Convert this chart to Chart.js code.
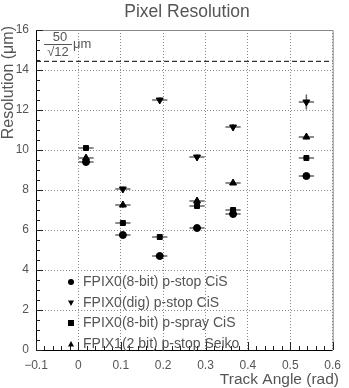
<!DOCTYPE html>
<html>
<head>
<meta charset="utf-8">
<script src="https://cdn.jsdelivr.net/npm/chart.js@4.4.0/dist/chart.umd.min.js"></script>
<style>
  body { margin: 0; background: #fff; }
  canvas { display: block; }
</style>
</head>
<body>
<canvas id="myChart" width="349" height="388"></canvas>
<script>
// data
const seriesNames = [
  "FPIX0(8-bit) p-stop CiS",
  "FPIX0(dig) p-stop CiS",
  "FPIX0(8-bit) p-spray CiS",
  "FPIX1(2 bit) p-stop Seiko"
];

const anglesStopCis = [0.018, 0.105, 0.192, 0.28, 0.365, 0.538];
const resStopCis = [9.4, 5.75, 4.7, 6.1, 6.8, 8.7];
const errStopCis = [0.12, 0.12, 0.12, 0.12, 0.12, 0.15];

const anglesDig = [0.105, 0.192, 0.28, 0.365, 0.538];
const resDig = [8.05, 12.5, 9.65, 11.15, 12.4];
const errDig = [0.12, 0.12, 0.12, 0.15, 0.38];

const anglesSpray = [0.018, 0.105, 0.192, 0.28, 0.365, 0.538];
const resSpray = [10.1, 6.35, 5.65, 7.2, 7.0, 9.6];
const errSpray = [0.12, 0.15, 0.12, 0.15, 0.15, 0.15];

const anglesSeiko = [0.018, 0.105, 0.28, 0.365, 0.538];
const resSeiko = [9.6, 7.25, 7.45, 8.35, 10.65];
const errSeiko = [0.12, 0.15, 0.15, 0.1, 0.12];

const angleErr = 0.018;
const pixelLimit = 50 / Math.sqrt(12);

const xTicks = [-0.1, 0, 0.1, 0.2, 0.3, 0.4, 0.5, 0.6];
const yTicks = [0, 2, 4, 6, 8, 10, 12, 14, 16];

const FONT = "'Liberation Sans', Arial, sans-serif";
const TXT = "#555";

function points(xs, ys) {
  const out = [];
  for (let i = 0; i < xs.length; i++) {
    out.push({ x: xs[i], y: ys[i] });
  }
  return out;
}

function marker(label, xs, ys, errs, style, rot, radius) {
  return {
    type: "scatter",
    label: label,
    data: points(xs, ys),
    yErr: errs,
    pointStyle: style,
    rotation: rot,
    pointRadius: radius,
    pointHoverRadius: radius,
    backgroundColor: "#000",
    borderColor: "#000",
    borderWidth: 1
  };
}

// small helper for legend symbols
function drawSymbol(ctx, kind, x, y, s) {
  ctx.beginPath();
  if (kind === "circle") {
    ctx.arc(x, y, s, 0, Math.PI * 2);
  } else if (kind === "down") {
    ctx.moveTo(x - s, y - s * 0.8);
    ctx.lineTo(x + s, y - s * 0.8);
    ctx.lineTo(x, y + s);
  } else if (kind === "up") {
    ctx.moveTo(x - s, y + s * 0.8);
    ctx.lineTo(x + s, y + s * 0.8);
    ctx.lineTo(x, y - s);
  } else {
    ctx.rect(x - s, y - s, s * 2, s * 2);
  }
  ctx.closePath();
  ctx.fill();
}

const errorBars = {
  id: "errorBars",
  beforeDatasetsDraw(chart) {
    const ctx = chart.ctx;
    const xs = chart.scales.x;
    const ys = chart.scales.y;
    ctx.save();
    ctx.strokeStyle = "#666";
    ctx.lineWidth = 1.5;
    chart.data.datasets.forEach(ds => {
      if (!ds.yErr) return;
      ds.data.forEach((p, i) => {
        const px = xs.getPixelForValue(p.x);
        const py = ys.getPixelForValue(p.y);
        ctx.beginPath();
        ctx.moveTo(xs.getPixelForValue(p.x - angleErr), py);
        ctx.lineTo(xs.getPixelForValue(p.x + angleErr), py);
        ctx.moveTo(px, ys.getPixelForValue(p.y - ds.yErr[i]));
        ctx.lineTo(px, ys.getPixelForValue(p.y + ds.yErr[i]));
        ctx.stroke();
      });
    });
    ctx.restore();
  }
};

const decorations = {
  id: "decorations",
  afterDraw(chart) {
    const ctx = chart.ctx;
    const a = chart.chartArea;
    const xs = chart.scales.x;
    const ys = chart.scales.y;
    ctx.save();

    // frame
    ctx.lineWidth = 1;
    ctx.strokeStyle = "#888";
    ctx.beginPath();
    ctx.moveTo(a.left, a.top + 0.5);
    ctx.lineTo(a.right + 0.5, a.top + 0.5);
    ctx.lineTo(a.right + 0.5, a.bottom);
    ctx.stroke();
    ctx.strokeStyle = "#000";
    ctx.beginPath();
    ctx.moveTo(a.left + 0.5, a.top);
    ctx.lineTo(a.left + 0.5, a.bottom + 0.5);
    ctx.lineTo(a.right, a.bottom + 0.5);
    ctx.stroke();

    // ticks, pointing inwards
    ctx.strokeStyle = "#222";
    ctx.beginPath();
    for (let v = 0; v <= 16.001; v += 0.5) {
      const py = Math.round(ys.getPixelForValue(v)) + 0.5;
      const len = Math.abs(v % 2) < 0.01 ? 7 : 4;
      ctx.moveTo(a.left, py);
      ctx.lineTo(a.left + len, py);
    }
    for (let k = 0; k <= 35; k++) {
      const v = -0.1 + k * 0.02;
      const px = Math.round(xs.getPixelForValue(v)) + 0.5;
      const len = k % 5 === 0 ? 8 : 4;
      ctx.moveTo(px, a.bottom);
      ctx.lineTo(px, a.bottom - len);
    }
    ctx.stroke();

    ctx.fillStyle = TXT;

    // title
    ctx.font = "17.5px " + FONT;
    ctx.textAlign = "center";
    ctx.textBaseline = "middle";
    ctx.fillText("Pixel Resolution", 187, 12);

    // x axis title
    ctx.font = "15.5px " + FONT;
    ctx.textAlign = "right";
    ctx.fillText("Track Angle (rad)", 339, 380);

    // y axis title
    ctx.save();
    ctx.font = "16px " + FONT;
    ctx.translate(9, 26);
    ctx.rotate(-Math.PI / 2);
    ctx.textAlign = "right";
    ctx.fillText("Resolution (\u03bcm)", 0, 0);
    ctx.restore();

    // 50/sqrt(12) label
    ctx.font = "13px " + FONT;
    ctx.textAlign = "center";
    ctx.fillText("50", 60, 37);
    ctx.fillText("\u221a12", 58, 52);
    ctx.strokeStyle = TXT;
    ctx.beginPath();
    ctx.moveTo(44, 44.5);
    ctx.lineTo(72, 44.5);
    ctx.stroke();
    ctx.textAlign = "left";
    ctx.fillText("\u03bcm", 73, 44);

    // legend
    const kinds = ["circle", "down", "square", "up"];
    const rows = [282, 303, 323, 344];
    ctx.font = "14px " + FONT;
    ctx.textAlign = "left";
    for (let i = 0; i < seriesNames.length; i++) {
      ctx.fillStyle = "#000";
      drawSymbol(ctx, kinds[i], 71, rows[i], 3);
      ctx.fillStyle = TXT;
      ctx.fillText(seriesNames[i], 83, rows[i]);
    }
    ctx.restore();
  }
};

const ctx = document.getElementById("myChart");

new Chart(ctx, {
  data: {
    datasets: [
      {
        type: "line",
        label: "limit",
        data: [{ x: xTicks[0], y: pixelLimit }, { x: xTicks[xTicks.length - 1], y: pixelLimit }],
        borderColor: "#000",
        borderWidth: 1,
        borderDash: [5, 3],
        pointRadius: 0,
        fill: false
      },
      marker(seriesNames[0], anglesStopCis, resStopCis, errStopCis, "circle", 0, 3.5),
      marker(seriesNames[1], anglesDig, resDig, errDig, "triangle", 180, 4),
      marker(seriesNames[2], anglesSpray, resSpray, errSpray, "rect", 0, 3.5),
      marker(seriesNames[3], anglesSeiko, resSeiko, errSeiko, "triangle", 0, 4)
    ]
  },
  options: {
    responsive: false,
    animation: false,
    layout: { padding: { top: 30, right: 11, left: 0, bottom: 0 } },
    plugins: {
      legend: { display: false },
      title: { display: false },
      tooltip: { enabled: false }
    },
    scales: {
      x: {
        type: "linear",
        min: xTicks[0],
        max: xTicks[xTicks.length - 1],
        afterBuildTicks(scale) {
          scale.ticks = xTicks.map(v => ({ value: v }));
        },
        afterFit(scale) { scale.height = 38; },
        ticks: {
          padding: 8,
          maxRotation: 0,
          autoSkip: false,
          color: TXT,
          font: { family: FONT, size: 12 },
          callback: v => (v < 0 ? "\u2212" : "") + Math.abs(v).toFixed(1).replace(/^0\.0$/, "0").replace(/\.0$/, "")
        },
        grid: { color: "#888", drawTicks: false, lineWidth: 1 },
        border: { display: false, dash: [1, 2] }
      },
      y: {
        type: "linear",
        min: yTicks[0],
        max: yTicks[yTicks.length - 1],
        afterBuildTicks(scale) {
          scale.ticks = yTicks.map(v => ({ value: v }));
        },
        afterFit(scale) { scale.width = 36; },
        ticks: {
          padding: 7,
          autoSkip: false,
          color: TXT,
          font: { family: FONT, size: 12 }
        },
        grid: { color: "#888", drawTicks: false, lineWidth: 1 },
        border: { display: false, dash: [1, 2] }
      }
    }
  },
  plugins: [errorBars, decorations]
});
</script>
</body>
</html>
